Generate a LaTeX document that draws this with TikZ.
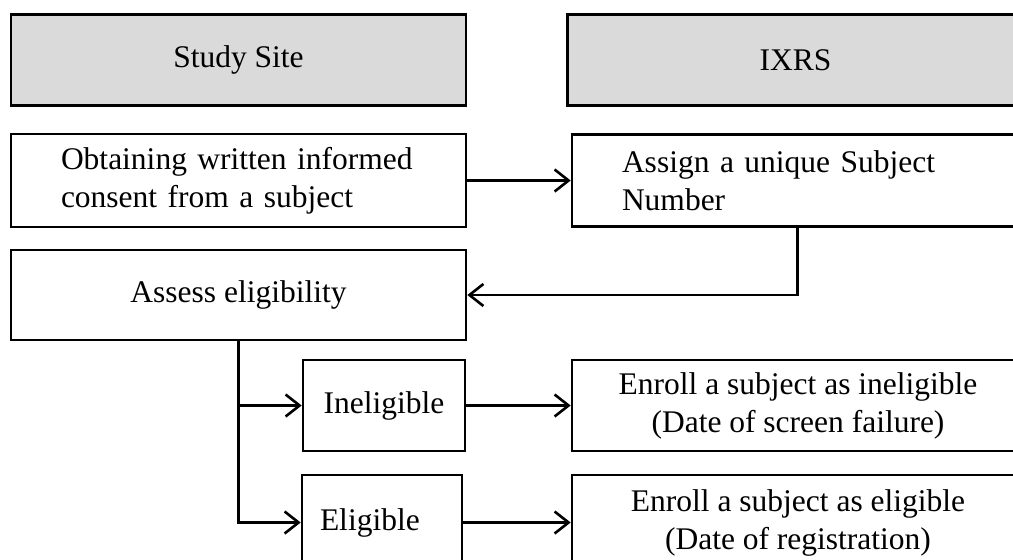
\documentclass[tikz,border=0pt]{standalone}
\usepackage{fontspec}
\setmainfont{Liberation Serif}
\usetikzlibrary{arrows.meta}
\definecolor{headgray}{RGB}{218,218,218}
\tikzset{
  box/.style={draw=black, line width=2.6pt, fill=white, inner sep=0pt,
    font=\fontsize{31.5}{38}\selectfont},
  head/.style={box, fill=headgray},
  conn/.style={line width=2.6pt, -{Straight Barb[length=14pt,width=22pt,line width=2.6pt]}}
}
\begin{document}
\begin{tikzpicture}[x=1pt,y=-1pt]
\useasboundingbox (0,0) rectangle (1013,560);
\fill[white] (0,0) rectangle (1013,560);
\clip (0,0) rectangle (1013,560);
\node[head, minimum width=455pt, minimum height=91pt] (site) at (238.5,60) {Study Site};
\node[head, minimum width=456pt, minimum height=91pt] (ixrs) at (795.5,60) {IXRS};
\node[box, minimum width=455pt, minimum height=93pt, text width=355pt, align=left] (obtain) at (238.5,180.5) {Obtaining written informed\\consent from a subject};
\node[box, minimum width=451pt, minimum height=92pt, text width=351pt, align=left] (assign) at (797.5,180.5) {Assign a unique Subject\\Number};
\node[box, minimum width=455pt, minimum height=90pt] (assess) at (238.5,295) {Assess eligibility};
\node[box, minimum width=162pt, minimum height=91pt] (inel) at (384,405.5) {Ineligible};
\node[box, minimum width=160pt, minimum height=95pt, text width=124pt, align=left] (elig) at (382,522.5) {Eligible};
\node[box, minimum width=452pt, minimum height=91pt, align=center] (enin) at (798,405.5) {Enroll a subject as ineligible\\(Date of screen failure)};
\node[box, minimum width=452pt, minimum height=95pt, align=center] (enel) at (798,522.5) {Enroll a subject as eligible\\(Date of registration)};
\draw[conn] (obtain.east) -- (assign.west);
\draw[conn] (assign.south) |- (assess.east);
\draw[conn] (assess.south) |- (inel.west);
\draw[conn] (assess.south) |- (elig.west);
\draw[conn] (inel.east) -- (enin.west);
\draw[conn] (elig.east) -- (enel.west);
\end{tikzpicture}
\end{document}
